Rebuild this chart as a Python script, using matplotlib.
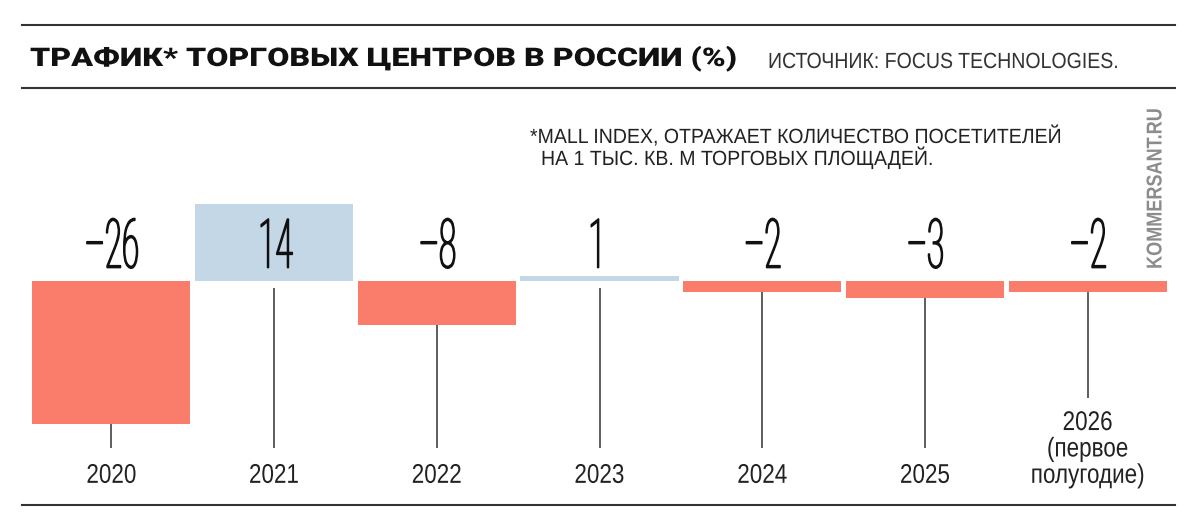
import matplotlib
matplotlib.use('Agg')
import matplotlib.pyplot as plt
from matplotlib.lines import Line2D
from matplotlib.patheffects import AbstractPathEffect
from matplotlib.transforms import Affine2D

# данные
years = ['2020', '2021', '2022', '2023', '2024', '2025', '2026\n(первое\nполугодие)']
values = [-26, 14, -8, 1, -2, -3, -2]

title = 'ТРАФИК* ТОРГОВЫХ ЦЕНТРОВ В РОССИИ (%)'
source = 'ИСТОЧНИК: FOCUS TECHNOLOGIES.'
note_1 = '*MALL INDEX, ОТРАЖАЕТ КОЛИЧЕСТВО ПОСЕТИТЕЛЕЙ'
note_2 = 'НА 1 ТЫС. КВ. М ТОРГОВЫХ ПЛОЩАДЕЙ.'
brand = 'KOMMERSANT.RU'

RED = '#FA7D6C'
BLUE = '#C3D7E7'
LINE = '#333333'
SANS = ['Liberation Sans', 'DejaVu Sans']


class Squeeze(AbstractPathEffect):
    """сжимает/растягивает текст по горизонтали (узкий шрифт)"""

    def __init__(self, sx, anchor='center', stroke=0):
        super().__init__()
        self.sx = sx
        self.anchor = anchor
        self.stroke = stroke

    def draw_path(self, renderer, gc, tpath, affine, rgbFace=None):
        if self.anchor == 'left':
            cx = 0
        else:
            ext = tpath.get_extents()
            cx = (ext.x0 + ext.x1) / 2
        t = Affine2D().translate(-cx, 0).scale(self.sx, 1).translate(cx, 0) + affine
        if self.stroke:
            gc0 = renderer.new_gc()
            gc0.copy_properties(gc)
            gc0.set_linewidth(self.stroke)
            gc0.set_foreground(rgbFace)
            renderer.draw_path(gc0, tpath, t, rgbFace)
            gc0.restore()
        else:
            renderer.draw_path(gc, tpath, t, rgbFace)


W, H = 1200, 531


def fx(px):
    return px / W


def fy(py):
    return 1 - py / H


fig = plt.figure(figsize=(12, 5.31), dpi=100)

# линии шапки и низа
for py in (25, 88, 505):
    fig.add_artist(Line2D([fx(22), fx(1175)], [fy(py), fy(py)], color=LINE, lw=1.5))

fig.text(fx(30), fy(66), title, fontsize=18.5, fontweight='black',
         family=['Roboto', 'Liberation Sans', 'DejaVu Sans'], color='#111111',
         path_effects=[Squeeze(1.25, 'left')])
fig.text(fx(768), fy(68), source, fontsize=15.8, family=SANS, color='#333333',
         path_effects=[Squeeze(0.89, 'left')])

fig.text(fx(530), fy(143), note_1, fontsize=14.8, family=SANS, color='#222222',
         path_effects=[Squeeze(0.95, 'left')])
fig.text(fx(541), fy(165), note_2, fontsize=14.8, family=SANS, color='#222222',
         path_effects=[Squeeze(0.95, 'left')])

fig.text(fx(1156), fy(189), brand, rotation=90, ha='center', va='center',
         fontsize=15.5, fontweight='bold', family=SANS, color='#8C8C8C',
         path_effects=[Squeeze(0.84)])

# столбцы
ax = fig.add_axes([fx(30), 1 - 424 / H, 1139 / W, 220 / H])
ax.set_xlim(-0.5, 6.5)
ax.set_ylim(-26, 14)
ax.axis('off')

xs = list(range(len(values)))
colors = [BLUE if v > 0 else RED for v in values]
ax.bar(xs, values, width=0.972, color=colors, linewidth=0)

for x, v, yr in zip(xs, values, years):
    last = yr.startswith('2026')
    top = v if v < 0 else -1.27
    bottom = -21.3 if last else -30.4
    ax.vlines(x, bottom, top, color=LINE, lw=1.1, clip_on=False)
    ax.text(x, -36.7, yr, ha='center', va='baseline', fontsize=19.5,
            family=SANS, color='#222222', linespacing=1.02, clip_on=False,
            path_effects=[Squeeze(0.83)])
    label = f'–{abs(v)}' if v < 0 else str(v)
    ax.text(x, 2.45, label, ha='center', va='baseline', fontsize=49,
            fontweight='light', family=['Roboto'] + SANS, color='#111111',
            clip_on=False, path_effects=[Squeeze(0.46, stroke=1.2)])

fig.savefig('out.png', dpi=100)
